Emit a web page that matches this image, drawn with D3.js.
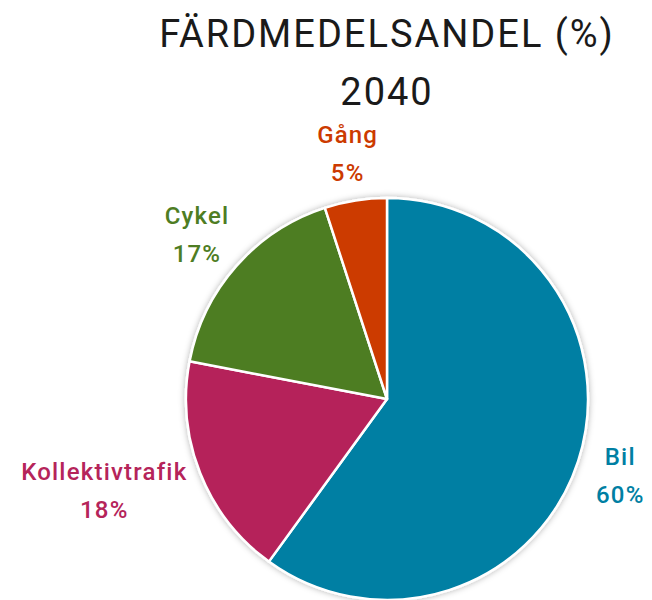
<!DOCTYPE html>
<html>
<head>
<meta charset="utf-8">
<script src="https://cdn.jsdelivr.net/npm/d3@7"></script>
<style>
  body { margin: 0; background: #fff; }
  svg { display: block; }
  text { font-family: Roboto, "Noto Sans", sans-serif; }
</style>
</head>
<body>
<svg id="chart" width="652" height="600"></svg>
<script>
const titleLines = ["FÄRDMEDELSANDEL (%)", "2040"];
const categories = ["Bil", "Kollektivtrafik", "Cykel", "Gång"];
const values = [60, 18, 17, 5];
const colors = ["#007fa3", "#b5245a", "#4e7d23", "#cc3a00"];

const svg = d3.select("#chart");
const cx = 387, cy = 399, R = 201;

// title
const title = svg.append("text")
  .attr("text-anchor", "middle")
  .attr("font-size", 38)
  .attr("font-weight", 400)
  .attr("letter-spacing", "2px")
  .attr("fill", "#1a1a1a");
titleLines.forEach((t, i) => {
  title.append("tspan").attr("x", 387).attr("y", 47 + i * 58).text(t);
});

// shadow filter
const defs = svg.append("defs");
const f = defs.append("filter").attr("id", "sh").attr("x", "-20%").attr("y", "-20%").attr("width", "140%").attr("height", "140%");
f.append("feDropShadow").attr("dx", 0).attr("dy", 0).attr("stdDeviation", 3)
  .attr("flood-color", "#000").attr("flood-opacity", 0.3);

const data = categories.map((c, i) => ({ name: c, value: values[i], color: colors[i] }));
const pie = d3.pie().value(d => d.value).sort(null);
const arcs = pie(data);
const arc = d3.arc().innerRadius(0).outerRadius(R);

const g = svg.append("g").attr("transform", `translate(${cx},${cy})`);
const sg = g.append("g").attr("filter", "url(#sh)");
sg.selectAll("path").data(arcs).join("path")
  .attr("d", arc)
  .attr("fill", d => d.data.color)
  .attr("stroke", "#fff")
  .attr("stroke-width", 2.5)
  .attr("stroke-linejoin", "round");

// labels
const fs = 24, lh = 38, cap = 17;
arcs.forEach(a => {
  const mid = (a.startAngle + a.endAngle) / 2;
  const s = Math.sin(mid), c = Math.cos(mid);
  const ar = R + 20;
  const ax = ar * s, ay = -ar * c;
  const t = g.append("text")
    .attr("text-anchor", "middle")
    .attr("font-size", fs)
    .attr("font-weight", 500)
    .attr("letter-spacing", "1.2px")
    .attr("fill", a.data.color);
  const t1 = t.append("tspan").attr("x", 0).attr("y", 0).text(a.data.name);
  const t2 = t.append("tspan").attr("x", 0).attr("y", lh).text(a.data.value + "%");
  const w = Math.max(t1.node().getComputedTextLength(), t2.node().getComputedTextLength());
  const h = cap + lh;
  const bx = ax + s * w / 2;
  const by = ay - c * h / 2;
  t1.attr("x", bx).attr("y", by - h / 2 + cap);
  t2.attr("x", bx).attr("y", by - h / 2 + cap + lh);
});
</script>
</body>
</html>
